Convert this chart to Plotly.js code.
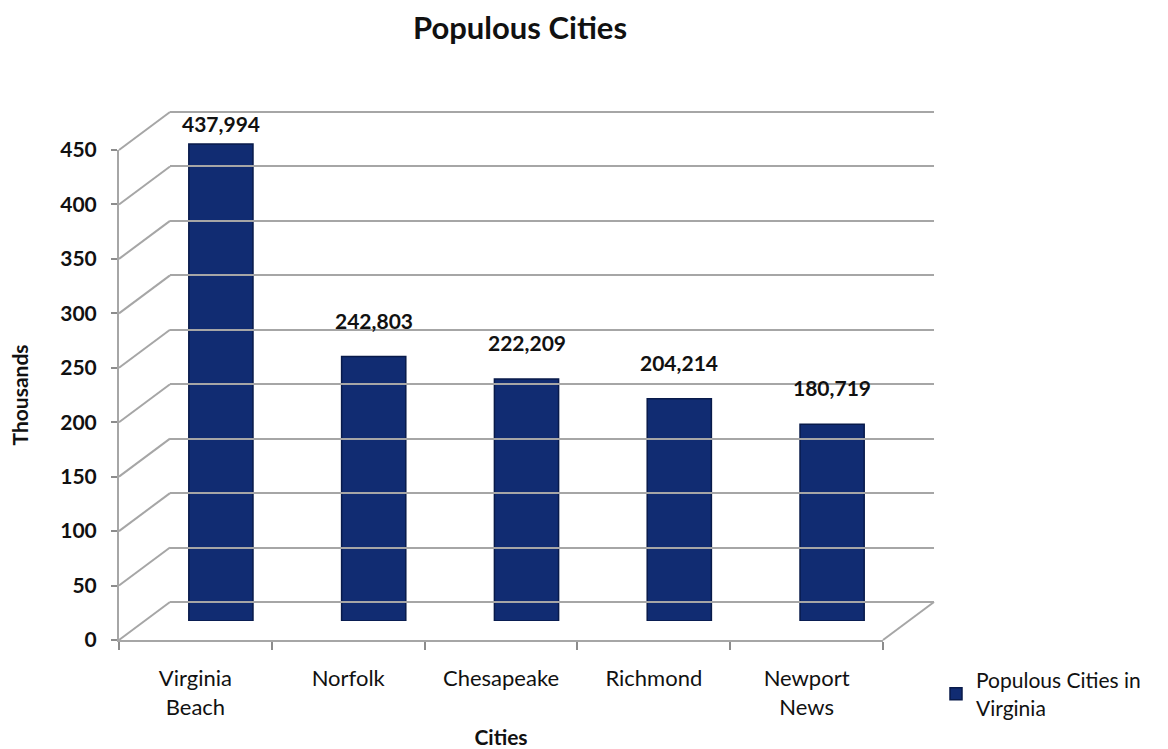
<!DOCTYPE html>
<html>
<head>
<meta charset="utf-8">
<script src="https://cdn.plot.ly/plotly-3.0.1.min.js"></script>
<style>html,body{margin:0;padding:0;background:#fff;}#chart{width:1168px;height:749px;}</style>
</head>
<body>
<div id="chart"></div>
<script>
// ---- data ----
const cities = ["Virginia Beach", "Norfolk", "Chesapeake", "Richmond", "Newport News"];
const cityLabels = ["Virginia<br>Beach", "Norfolk", "Chesapeake", "Richmond", "Newport<br>News"];
const population = [437994, 242803, 222209, 204214, 180719];
const yTicks = [0, 50, 100, 150, 200, 250, 300, 350, 400, 450];
const seriesName = "Populous Cities in<br>Virginia";

// ---- geometry helpers (pixel -> paper) ----
const W = 1168, H = 749;
const fx = px => px / W;
const fy = py => (H - py) / H;
const FONT = "Lato, 'Open Sans', sans-serif";

// front axes box, bar plane, back wall plane (3D look)
const front = {x0: 119, x1: 883, y0: 640, y1: 150};
const depth = {dx: 51, dy: -38};
const mid = {x0: front.x0 + depth.dx / 2, x1: front.x1 + depth.dx / 2, y0: front.y0 + depth.dy / 2, y1: front.y1 + depth.dy / 2};
const back = {x0: front.x0 + depth.dx, x1: front.x1 + depth.dx, y0: front.y0 + depth.dy, y1: front.y1 + depth.dy};
const yMax = 450;
// padding (in axis units) so edge gridlines on the back wall are drawn
const pad = 10;
const pxPerUnit = (back.y0 - back.y1) / yMax;

const valuesK = population.map(v => v / 1000);

const traces = [
  // invisible trace to drive the front category axis
  {type: "bar", x: cities, y: valuesK, xaxis: "x", yaxis: "y", marker: {color: "rgba(0,0,0,0)"},
   showlegend: false, hoverinfo: "skip"},
  // visible bars
  {type: "bar", x: cities, y: valuesK, xaxis: "x2", yaxis: "y2", name: seriesName,
   width: 0.42,
   marker: {color: "#112c72", line: {color: "#081a4a", width: 1.5}},
   hoverinfo: "x+y"},
  // back wall subplot anchor (no visible data)
  {type: "scatter", x: [0], y: [0], xaxis: "x3", yaxis: "y3", mode: "markers",
   marker: {opacity: 0}, showlegend: false, hoverinfo: "skip"}
];

// diagonals from front ticks to back wall + floor right edge
const shapes = [];
const yFront = v => front.y0 - (front.y0 - front.y1) * v / yMax;
const yBack = v => back.y0 - (back.y0 - back.y1) * v / yMax;
yTicks.forEach(v => {
  shapes.push({type: "line", xref: "paper", yref: "paper",
    x0: fx(front.x0), y0: fy(yFront(v)), x1: fx(back.x0), y1: fy(yBack(v)),
    line: {color: "#a6a6a6", width: 2}, layer: "below"});
});
shapes.push({type: "line", xref: "paper", yref: "paper",
  x0: fx(front.x1), y0: fy(front.y0), x1: fx(back.x1), y1: fy(back.y0),
  line: {color: "#a6a6a6", width: 2}, layer: "below"});

const annotations = cities.map((c, i) => ({
  x: c, y: valuesK[i], xref: "x2", yref: "y2",
  text: population[i].toLocaleString("en-US"),
  showarrow: false, yanchor: "bottom", yshift: i === 0 ? 6 : 22,
  font: {family: FONT, size: 21, color: "#111", weight: "bold"}
}));

const layout = {
  width: W, height: H,
  margin: {l: 0, r: 0, t: 0, b: 0},
  paper_bgcolor: "#ffffff", plot_bgcolor: "rgba(0,0,0,0)",
  font: {family: FONT, color: "#111"},
  title: {text: "<b>Populous Cities</b>", x: fx(520), xanchor: "center", y: fy(28), yanchor: "middle",
          font: {family: FONT, size: 31, color: "#111"}},
  showlegend: true,
  legend: {x: fx(936), y: fy(660), xanchor: "left", yanchor: "top",
           font: {family: FONT, size: 21, color: "#111"}, bgcolor: "rgba(0,0,0,0)",
           itemwidth: 30, tracegroupgap: 0},
  xaxis: {domain: [fx(front.x0), fx(front.x1)], anchor: "y", type: "category",
          range: [-0.5, 4.5], tickvals: cities, ticktext: cityLabels,
          tickson: "boundaries", ticks: "outside", ticklen: 8, tickcolor: "#8c8c8c", tickwidth: 2,
          showline: true, linecolor: "#a6a6a6", linewidth: 2, showgrid: false, zeroline: false,
          ticklabelstandoff: 18,
          tickfont: {family: FONT, size: 22, color: "#111"},
          title: {text: "<b>Cities</b>", standoff: 12, font: {family: FONT, size: 21, color: "#111"}},
          fixedrange: true},
  yaxis: {domain: [fy(front.y0), fy(front.y1)], anchor: "x", range: [0, yMax],
          tickvals: yTicks, ticks: "outside", ticklen: 6, tickcolor: "#8c8c8c", tickwidth: 2,
          showline: true, linecolor: "#a6a6a6", linewidth: 2, showgrid: false, zeroline: false,
          ticklabelstandoff: 10,
          tickfont: {family: FONT, size: 21, color: "#111", weight: "bold"},
          title: {text: "<b>Thousands</b>", standoff: 26, font: {family: FONT, size: 21, color: "#111"}},
          fixedrange: true},
  xaxis2: {domain: [fx(mid.x0), fx(mid.x1)], anchor: "y2", type: "category", range: [-0.5, 4.5],
           visible: false, fixedrange: true},
  yaxis2: {domain: [fy(mid.y0), fy(mid.y1)], anchor: "x2", range: [0, yMax],
           visible: false, fixedrange: true},
  xaxis3: {domain: [fx(back.x0), fx(back.x1)], anchor: "y3", range: [0, 1],
           showgrid: false, zeroline: false, showticklabels: false, ticks: "", showline: false, fixedrange: true},
  yaxis3: {domain: [fy(back.y0 + pad * pxPerUnit), fy(back.y1 - pad * pxPerUnit)], anchor: "x3",
           range: [-pad, yMax + pad],
           tickvals: yTicks, showgrid: true, gridcolor: "#a6a6a6", gridwidth: 2,
           zeroline: false, showticklabels: false, ticks: "", showline: false, fixedrange: true},
  shapes: shapes,
  annotations: annotations
};

Plotly.newPlot("chart", traces, layout, {displayModeBar: false, staticPlot: true});
</script>
</body>
</html>
